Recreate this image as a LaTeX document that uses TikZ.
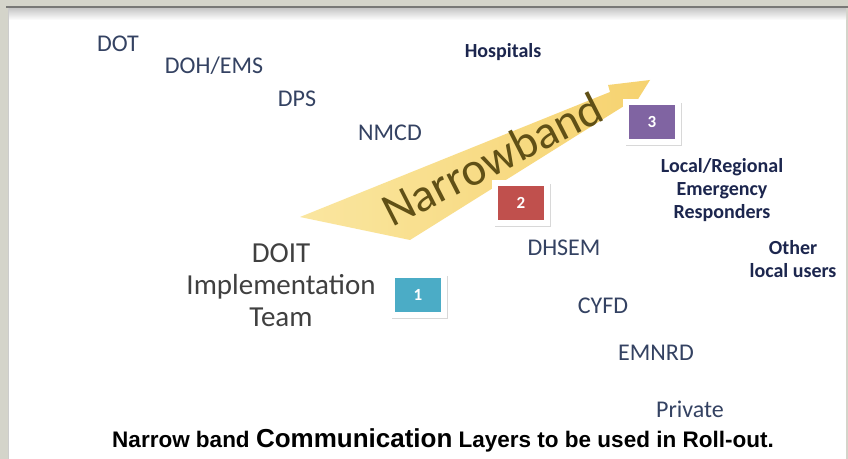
\documentclass[tikz,border=0pt]{standalone}
\usepackage{fontspec}
\setmainfont{Carlito}
\newfontfamily\capfont{Liberation Sans}
\usetikzlibrary{shadows}

\definecolor{frameback}{RGB}{212,212,202}
\definecolor{frametop}{RGB}{120,120,118}
\definecolor{labelblue}{RGB}{52,66,98}
\definecolor{labelnavy}{RGB}{28,38,78}
\definecolor{teamgray}{RGB}{64,64,64}
\definecolor{bandlight}{RGB}{250,228,150}
\definecolor{banddark}{RGB}{246,206,96}
\definecolor{bandtext}{RGB}{96,80,22}
\definecolor{boxcyan}{RGB}{75,172,198}
\definecolor{boxred}{RGB}{192,80,77}
\definecolor{boxpurple}{RGB}{128,100,162}

\begin{document}
\begin{tikzpicture}[x=1bp,y=-1bp,
    agency/.style={text=labelblue,font=\fontsize{24bp}{26bp}\selectfont,inner sep=0pt},
    usergroup/.style={text=labelnavy,font=\fontsize{20bp}{23bp}\selectfont\bfseries,align=center,inner sep=0pt},
    layerbox/.style={text=white,font=\fontsize{17bp}{18bp}\selectfont\bfseries,
        minimum width=52bp,minimum height=40bp,draw=white,line width=6bp,
        drop shadow={opacity=0.3,shadow xshift=1.5bp,shadow yshift=-2.5bp,shadow scale=1.08}}]
    \useasboundingbox (0,0) rectangle (848,459);

    % Frame and slide
    \fill[frameback] (0,0) rectangle (848,459);
    \fill[white] (8,8) rectangle (846,459);
    \shade[top color=gray!45,bottom color=white] (8,8) rectangle (846,20);
    \draw[frametop,line width=2bp] (6,7) -- (848,7);
    \draw[gray!40,line width=1bp] (8,8) -- (8,459);

    % Narrowband arrow
    \shade[left color=bandlight,right color=banddark,opacity=0.9]
        (300,217) -- (610,92) -- (608,85) -- (650,80) -- (630,112) -- (624,106) -- (410,240) -- cycle;
    \node[text=bandtext,font=\fontsize{47bp}{47bp}\selectfont,rotate=27] (band) at (492,159) {Narrowband};

    % State agencies
    \node[agency] (dot) at (118,44) {DOT};
    \node[agency] (dohems) at (214,66) {DOH/EMS};
    \node[agency] (dps) at (297,99) {DPS};
    \node[agency] (nmcd) at (390,133) {NMCD};
    \node[agency] (dhsem) at (564,248) {DHSEM};
    \node[agency] (cyfd) at (603,306) {CYFD};
    \node[agency] (emnrd) at (656,353) {EMNRD};
    \node[agency] (private) at (690,409) {Private};

    % Local users
    \node[usergroup] (hospitals) at (503,52) {Hospitals};
    \node[usergroup] (responders) at (722,190) {Local/Regional\\Emergency\\Responders};
    \node[usergroup] (other) at (793,259) {Other\\local users};

    % Implementation team
    \node[text=teamgray,font=\fontsize{29bp}{32bp}\selectfont,align=center,inner sep=0pt]
        (doit) at (281,285) {DOIT\\Implementation\\Team};

    % Layer numbers
    \node[layerbox,fill=boxcyan] (one) at (418,295) {1};
    \node[layerbox,fill=boxred] (two) at (521,203) {2};
    \node[layerbox,fill=boxpurple] (three) at (652,122) {3};

    % Caption
    \node[font=\capfont\bfseries\fontsize{22.5bp}{24bp}\selectfont] (caption) at (443,440)
        {Narrow band {\fontsize{26bp}{28bp}\selectfont Communication} Layers to be used in Roll-out.};
\end{tikzpicture}
\end{document}
